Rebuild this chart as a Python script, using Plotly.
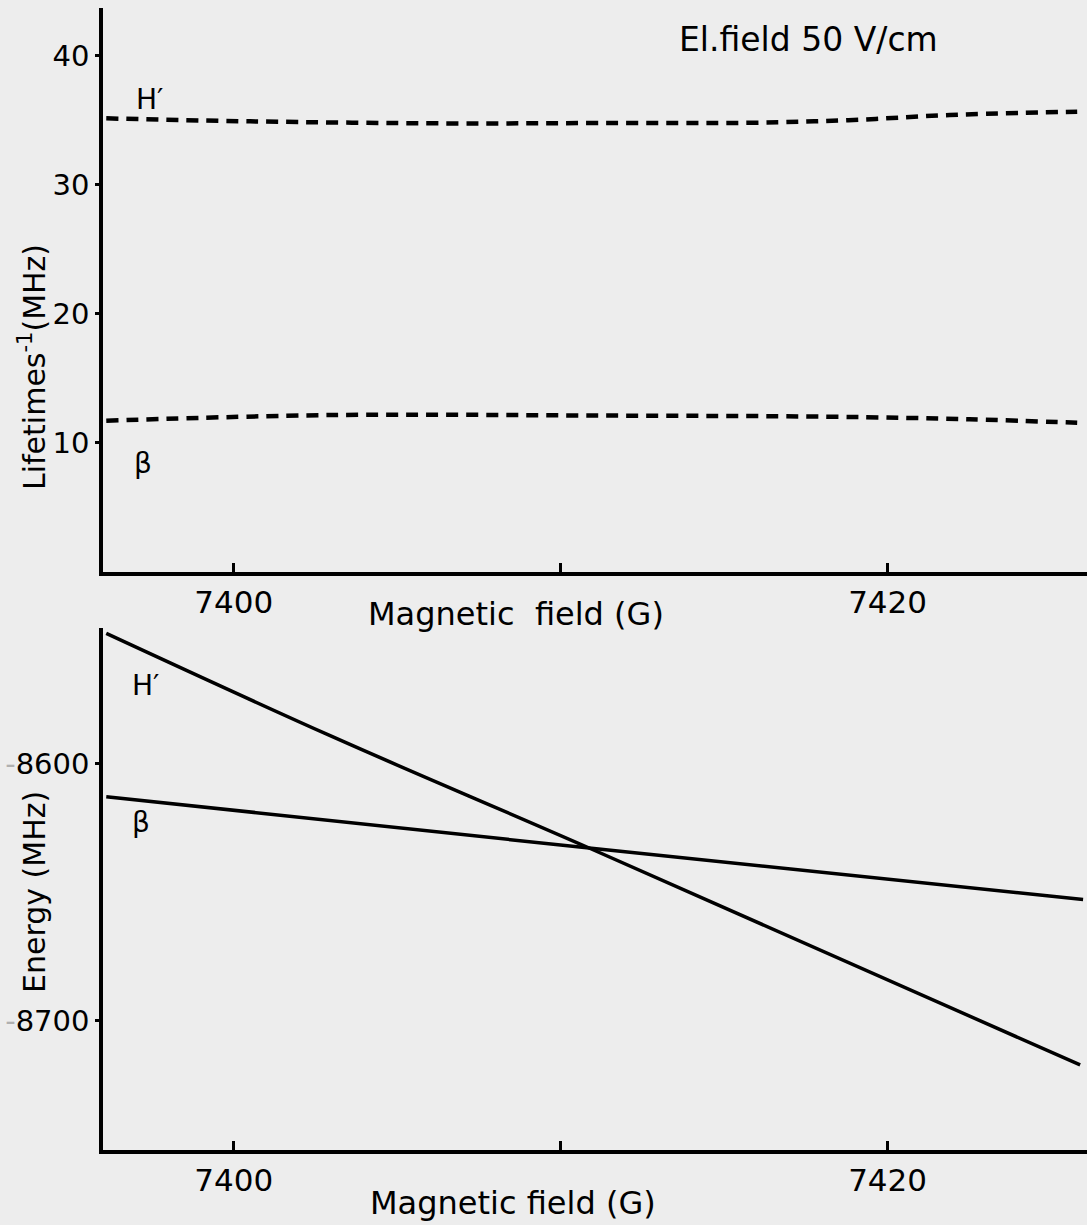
import plotly.graph_objects as go
from plotly.subplots import make_subplots

# ---- data ----
# Top panel: inverse lifetimes (MHz) vs magnetic field (G)
field_H_top = [7396.1, 7400.5, 7406.6, 7411.2, 7415.8, 7418.8, 7421.9, 7425.8]
life_H = [35.14, 34.91, 34.75, 34.78, 34.80, 35.00, 35.40, 35.66]
field_b_top = [7396.1, 7403.0, 7411.2, 7418.2, 7422.5, 7425.8]
life_b = [11.72, 12.16, 12.12, 12.03, 11.83, 11.56]

# Bottom panel: energy (MHz) vs magnetic field (G)
field_H_bot = [7396.1, 7403.0, 7410.87, 7425.89]
energy_H = [-8549.4, -8589.5, -8632.9, -8717.3]
field_b_bot = [7396.1, 7410.87, 7425.98]
energy_b = [-8612.95, -8632.9, -8652.9]

x_tickvals = [7400, 7420]
x_ticktext = ["7400", "7420"]
x_minor_ticks = [7410]
top_tickvals = [10, 20, 30, 40]
top_ticktext = ["10", "20", "30", "40"]
bot_tickvals = [-8700, -8600]
bot_ticktext = ['<span style="color:#b0b0b0">-</span>8700',
                '<span style="color:#b0b0b0">-</span>8600']

W, H = 1087, 1225
L = 103
FONT = "DejaVu Sans"
BG = "#ededed"

fig = make_subplots(rows=2, cols=1)

fig.add_trace(go.Scatter(x=field_H_top, y=life_H, mode="lines", line_shape="spline",
                         line=dict(color="black", width=4.5, dash="12px,8px"),
                         showlegend=False), row=1, col=1)
fig.add_trace(go.Scatter(x=field_b_top, y=life_b, mode="lines", line_shape="spline",
                         line=dict(color="black", width=4.5, dash="12px,8px"),
                         showlegend=False), row=1, col=1)
fig.add_trace(go.Scatter(x=field_H_bot, y=energy_H, mode="lines", line_shape="spline",
                         line=dict(color="black", width=3.5),
                         showlegend=False), row=2, col=1)
fig.add_trace(go.Scatter(x=field_b_bot, y=energy_b, mode="lines",
                         line=dict(color="black", width=3.5),
                         showlegend=False), row=2, col=1)

def py(p):
    return 1 - p / H

def px(p):
    return (p - L) / (W - L)

xaxis_common = dict(range=[7396.0, 7426.1], tickvals=x_tickvals, ticktext=x_ticktext,
                    minor=dict(tickmode="array", tickvals=x_minor_ticks, ticks="inside",
                               ticklen=9, tickwidth=3, tickcolor="black", showgrid=False),
                    showline=True, linecolor="black", linewidth=3.5, mirror=False,
                    ticks="inside", ticklen=9, tickwidth=3, tickcolor="black",
                    showgrid=False, zeroline=False,
                    tickfont=dict(family=FONT, size=31, color="black"),
                    domain=[0, 1], automargin=False)
yaxis_common = dict(showline=True, linecolor="black", linewidth=3.5,
                    ticks="outside", ticklen=4, tickwidth=3, tickcolor="black",
                    showgrid=False, zeroline=False,
                    automargin=False)

fig.update_layout(
    width=W, height=H,
    margin=dict(l=L, r=0, t=0, b=0),
    paper_bgcolor=BG, plot_bgcolor=BG,
    xaxis=dict(**xaxis_common, anchor="y"),
    xaxis2=dict(**xaxis_common, anchor="y2"),
    yaxis=dict(**yaxis_common, range=[0, 43.69], tickvals=top_tickvals,
               ticktext=top_ticktext, domain=[py(572), py(8)], anchor="x",
               tickfont=dict(family=FONT, size=29, color="black")),
    yaxis2=dict(**yaxis_common, range=[-8750.4, -8547.3], tickvals=bot_tickvals,
                ticktext=bot_ticktext, domain=[py(1150), py(628)], anchor="x2",
                tickfont=dict(family=FONT, size=29, color="black")),
    font=dict(family=FONT, color="black"),
)

ann = []
def text(s, x, y, size, angle=0):
    ann.append(dict(text=s, x=px(x), y=py(y), xref="paper", yref="paper",
                    showarrow=False, textangle=angle, xanchor="center", yanchor="middle",
                    font=dict(family=FONT, size=size, color="black")))

text("El.field 50 V/cm", 808, 40, 33)
text("Magnetic&nbsp;&nbsp;field (G)", 516, 614, 32)
text("Magnetic field (G)", 513, 1203, 32)
text("Lifetimes<sup>-1</sup>(MHz)", 32, 367, 30, -90)
text("Energy (MHz)", 34, 892, 30, -90)
text("H′", 149, 100, 28)
text("β", 143, 463, 28)
text("H′", 145, 685, 28)
text("β", 141, 822, 28)
fig.update_layout(annotations=ann)

fig.write_html("out.html")
